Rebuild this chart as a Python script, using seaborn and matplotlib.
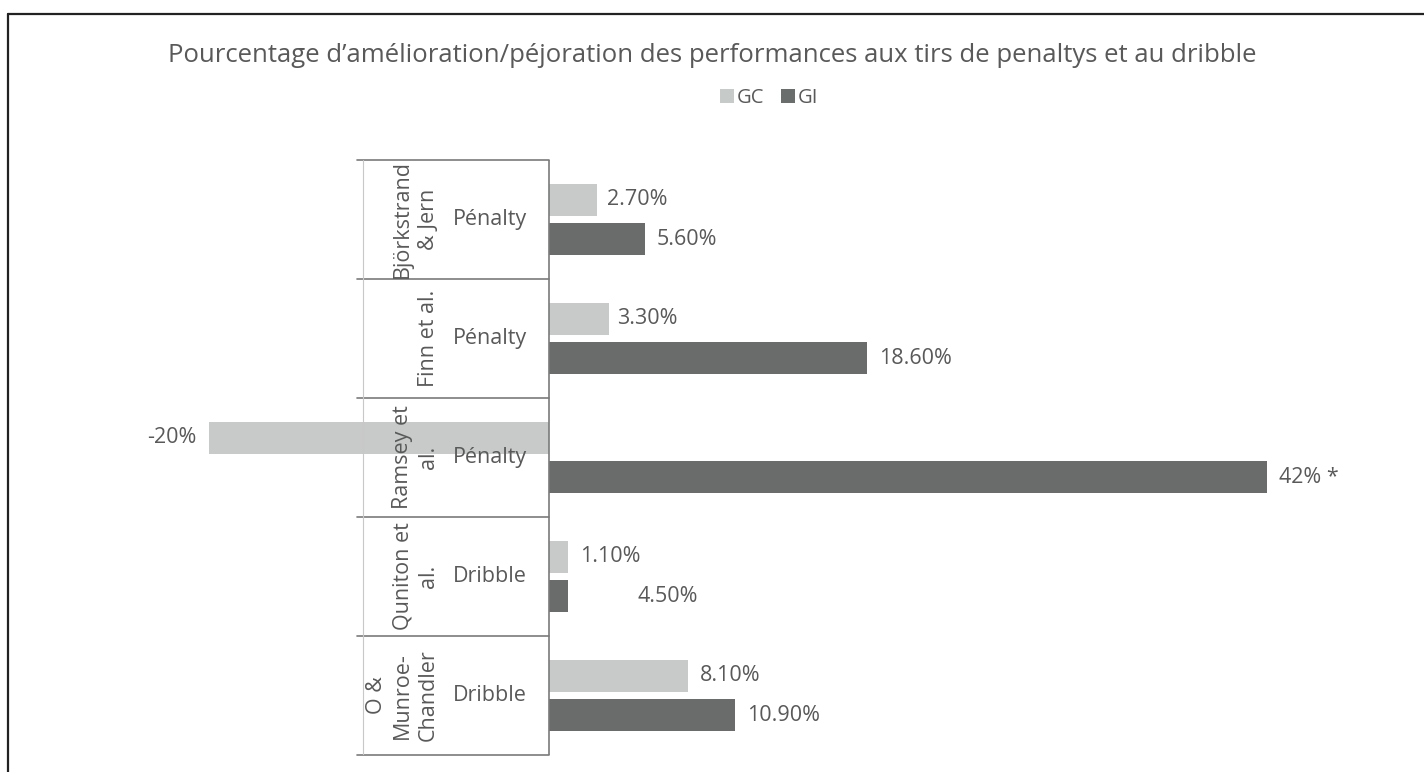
import pandas as pd
import seaborn as sns
import matplotlib.pyplot as plt
from matplotlib.lines import Line2D
from matplotlib.patches import Patch

# Data
studies = ['Björkstrand\n& Jern', 'Finn et al.', 'Ramsey et\nal.', 'Quniton et\nal.', 'O &\nMunroe-\nChandler']
tasks = ['Pénalty', 'Pénalty', 'Pénalty', 'Dribble', 'Dribble']
groups = ['GC', 'GI']

# bar lengths as drawn (%)
gc_bars = [2.8, 3.5, -19.9, 1.1, 8.1]
gi_bars = [5.6, 18.6, 42.0, 1.1, 10.9]

# values written in the labels (the 4.50% label is placed where a 4.5 bar would end)
gc_label_vals = [2.7, 3.3, -20.0, 1.1, 8.1]
gi_label_vals = [5.6, 18.6, 42.0, 4.5, 10.9]
gc_labels = ['2.70%', '3.30%', '-20%', '1.10%', '8.10%']
gi_labels = ['5.60%', '18.60%', '42% *', '4.50%', '10.90%']

title = "Pourcentage d\u2019amélioration/péjoration des performances aux tirs de penaltys et au dribble"

# Long form table for seaborn
df = pd.DataFrame({
    'study': studies * 2,
    'group': ['GC'] * 5 + ['GI'] * 5,
    'value': gc_bars + gi_bars,
})

colours = {'GC': '#c6cac9', 'GI': '#696d6b'}
text_col = '#595959'
fs = 15.5

sns.set_style('white')
plt.rcParams['font.family'] = ['Open Sans', 'DejaVu Sans']

fig = plt.figure(figsize=(14.24, 7.72), dpi=100)
ax = fig.add_axes([121.5 / 1424, 17 / 772, 1282.5 / 1424, 595 / 772])

sns.barplot(data=df, y='study', x='value', hue='group', hue_order=groups, order=studies,
            orient='h', palette=colours, width=0.67, gap=0.2, legend=False, ax=ax,
            edgecolor='none')
ax.set_xlim(-25, 50)
ax.set_ylim(4.5, -0.5)
ax.axis('off')

# value labels, offset in pixels from where the written value would end
dodge = 0.1675
for i in range(len(studies)):
    for v, lab, dy in [(gc_label_vals[i], gc_labels[i], -dodge), (gi_label_vals[i], gi_labels[i], dodge)]:
        if v < 0:
            ax.annotate(lab, xy=(v, i + dy), xytext=(-11, 0), textcoords='offset pixels',
                        ha='right', va='center', fontsize=fs, color=text_col)
        else:
            ax.annotate(lab, xy=(v, i + dy), xytext=(12, 0), textcoords='offset pixels',
                        ha='left', va='center', fontsize=fs, color=text_col)

# two-level category axis drawn as a small table
line_col = '#7a7a7a'
ax.axvline(0, color=line_col, lw=1.2, zorder=5)
x_left = (357 - 549) / 17.1
for k in range(len(studies) + 1):
    ax.plot([x_left, 0], [k - 0.5, k - 0.5], color=line_col, lw=1.2, zorder=5, clip_on=False)
ax.plot([(363 - 549) / 17.1] * 2, [-0.5, 4.5], color='#c8c8c8', lw=0.8, zorder=5)

for i, (s, t) in enumerate(zip(studies, tasks)):
    ax.annotate(s, xy=(0, i), xytext=(-110, 0), textcoords='offset pixels', rotation=90,
                ha='right', va='center', multialignment='center', fontsize=fs,
                color=text_col, linespacing=1.3, zorder=6)
    ax.annotate(t, xy=(0, i), xytext=(-59, 0), textcoords='offset pixels',
                ha='center', va='center', fontsize=fs, color=text_col, zorder=6)

# title and legend
fig.text(712 / 1424, 1 - 55 / 772, title, ha='center', va='center', fontsize=18.5, color=text_col)
handles = [Patch(facecolor=colours[g], edgecolor='none') for g in groups]
fig.legend(handles, groups, loc='center', bbox_to_anchor=(769 / 1424, 1 - 98 / 772), ncol=2,
           frameon=False, fontsize=14.5, handlelength=0.7, handleheight=0.7,
           handletextpad=0.15, columnspacing=0.8, labelcolor=text_col)

# outer frame (only top and left edges show in the picture)
fig.add_artist(Line2D([8 / 1424, 1.0], [1 - 14 / 772] * 2, color='#222222', lw=1.6))
fig.add_artist(Line2D([8 / 1424] * 2, [0, 1 - 14 / 772], color='#222222', lw=1.6))

plt.savefig('out.png', dpi=100)
